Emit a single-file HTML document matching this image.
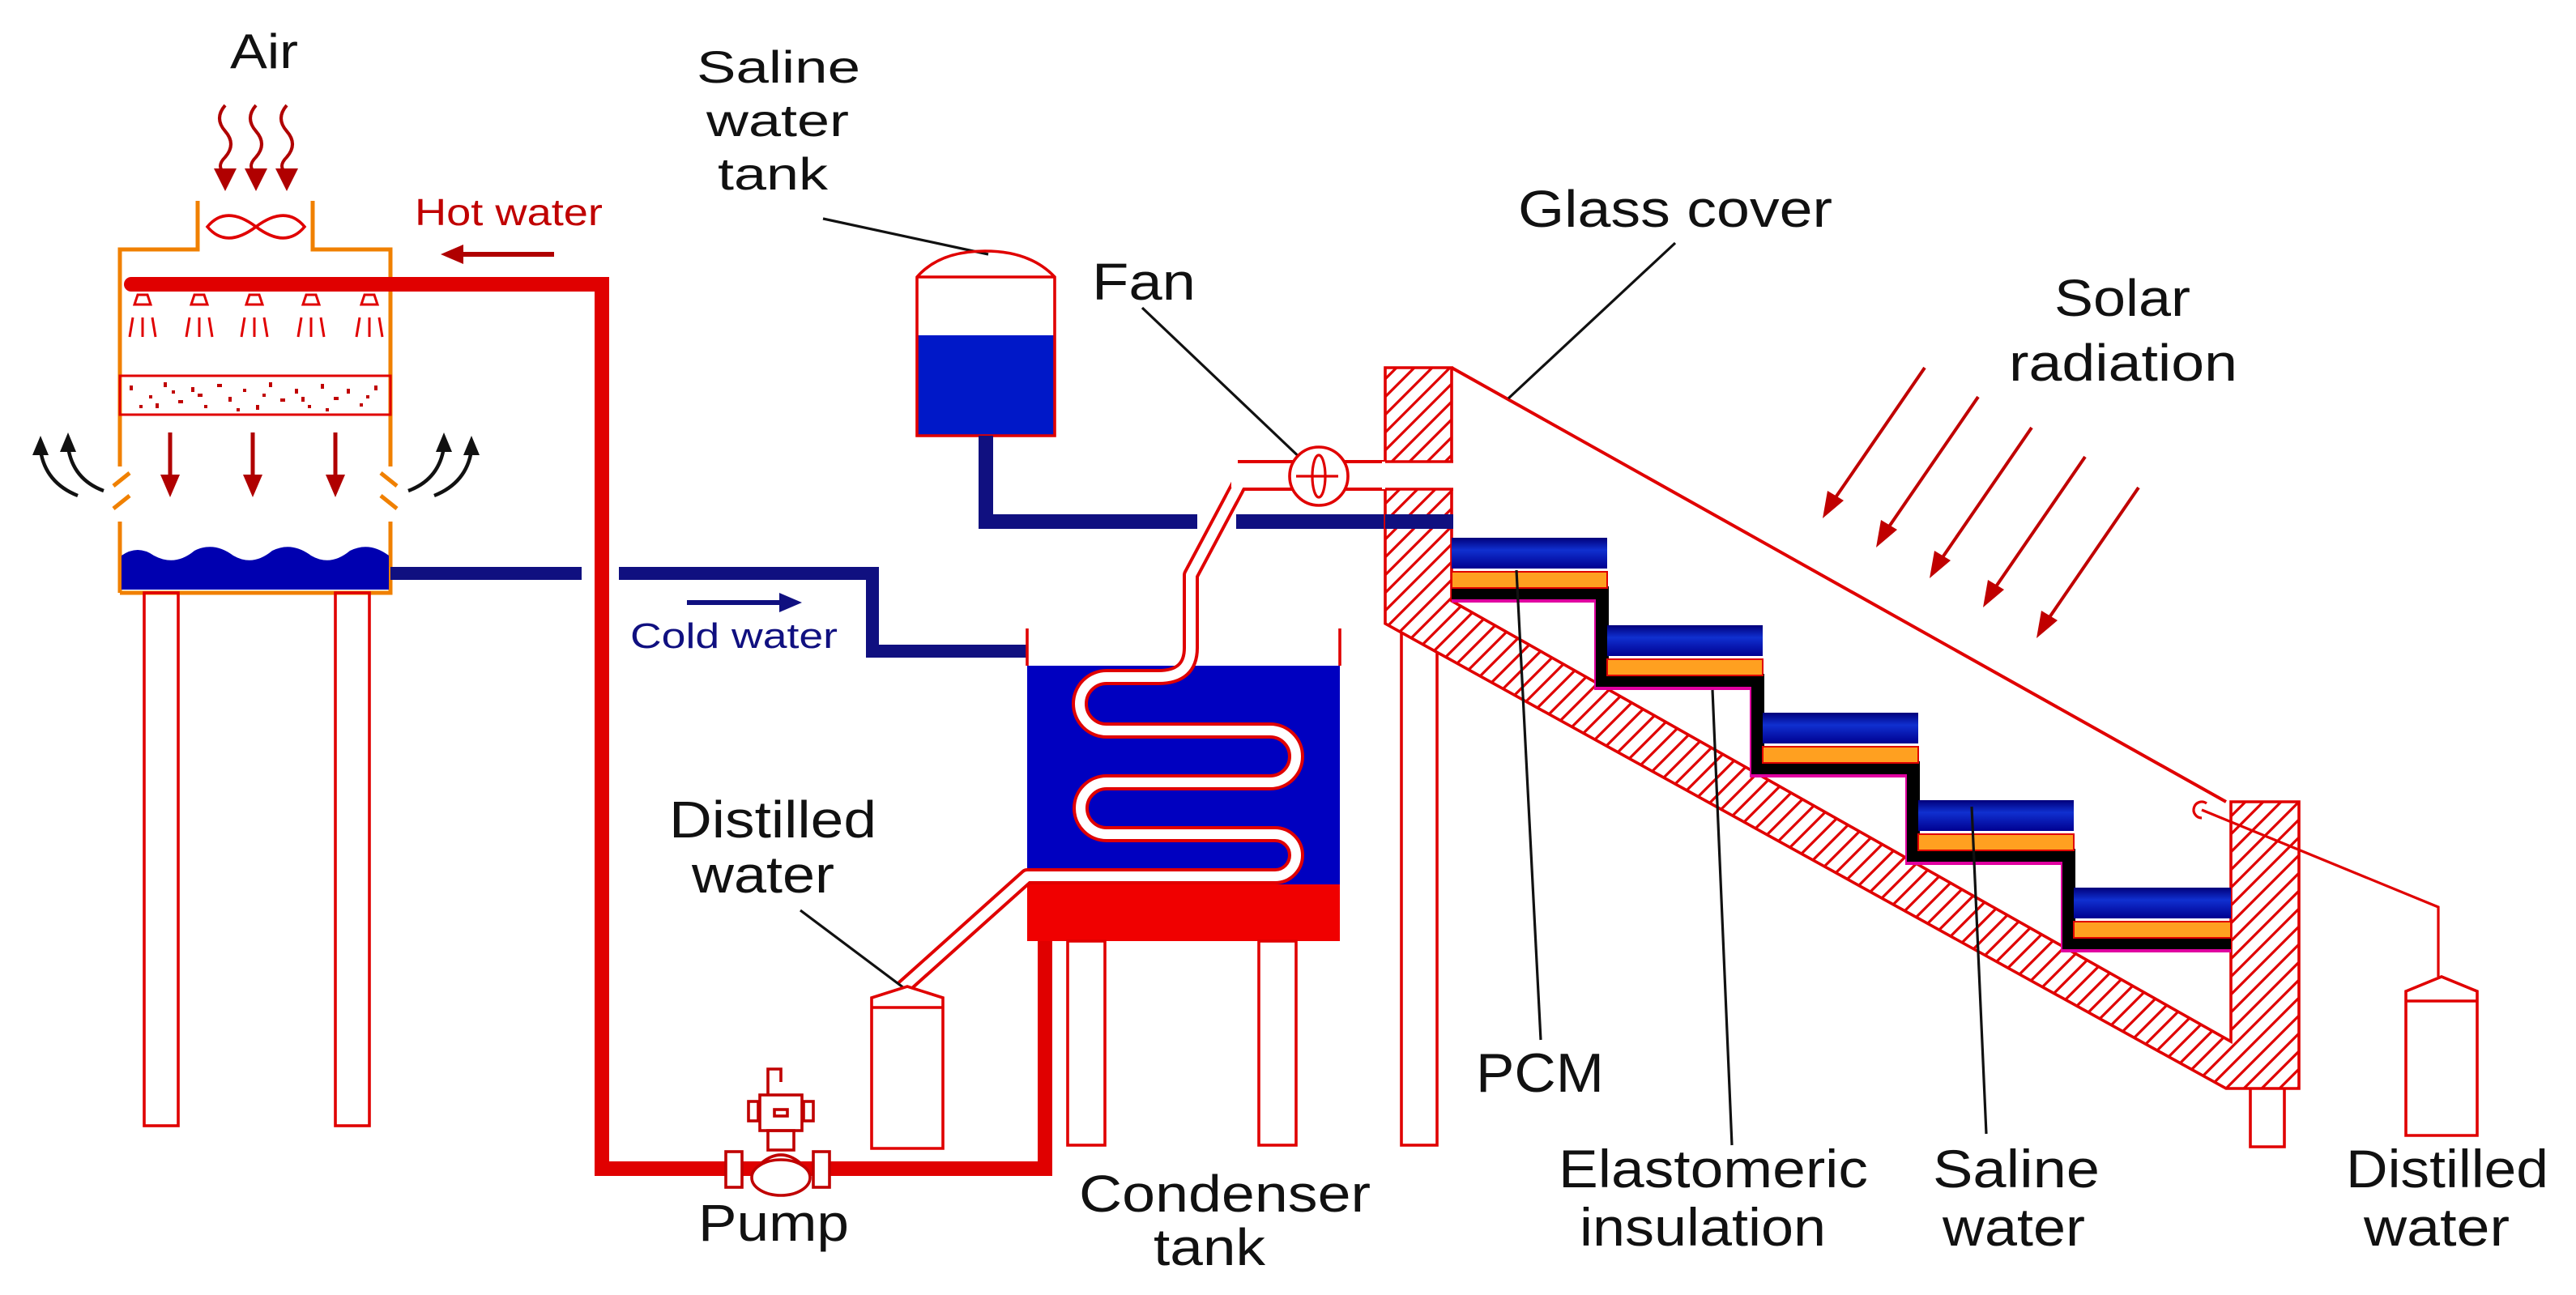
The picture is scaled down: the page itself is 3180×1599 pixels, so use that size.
<!DOCTYPE html>
<html><head><meta charset="utf-8"><style>
html,body{margin:0;padding:0;background:#fff;}
svg{display:block;}
text{font-family:"Liberation Sans",Arial,sans-serif;fill:#111;}
</style></head><body>
<svg width="3180" height="1599" viewBox="0 0 1590 799.5" xmlns="http://www.w3.org/2000/svg">
<defs>
<pattern id="hatch" patternUnits="userSpaceOnUse" width="11" height="11">
<rect width="11" height="11" fill="#fff"/>
<path d="M-2 13 L13 -2 M-2 2 L2 -2 M9 13 L13 9" stroke="#e00000" stroke-width="1.6"/>
</pattern>
<linearGradient id="bl" x1="0" y1="0" x2="0" y2="1">
<stop offset="0" stop-color="#00007a"/><stop offset="0.4" stop-color="#1030d0"/><stop offset="1" stop-color="#000090"/>
</linearGradient>
</defs>

<!-- ===== Cooling tower ===== -->
<text x="142" y="42" font-size="30" textLength="42" lengthAdjust="spacingAndGlyphs">Air</text>
<g stroke="#b00000" stroke-width="2" fill="none">
<path d="M139 65 q-7 8 0 16 q7 8 0 16 q-6 6 0 10"/>
<path d="M158 65 q-7 8 0 16 q7 8 0 16 q-6 6 0 10"/>
<path d="M177 65 q-7 8 0 16 q7 8 0 16 q-6 6 0 10"/>
</g>
<g fill="#b00000">
<path d="M132 104 L146 104 L139 118Z"/><path d="M151 104 L165 104 L158 118Z"/><path d="M170 104 L184 104 L177 118Z"/>
</g>
<g stroke="#f08000" stroke-width="2.5" fill="none">
<path d="M74 366 V322 M74 288 V154 H122 V124 M193 124 V154 H241 V288 M241 322 V366 H74"/>
<path d="M70 300 L80 292 M70 314 L80 306 M245 300 L235 292 M245 314 L235 306"/>
</g>
<path d="M128 140 C138 128 150 134 158 140 C166 146 178 152 188 140 C178 128 166 134 158 140 C150 146 138 152 128 140Z" fill="none" stroke="#e00000" stroke-width="1.8"/>
<path d="M75 364 V343 Q85 336 95 343 Q108 350 120 340 Q132 334 144 343 Q156 350 168 340 Q180 334 192 343 Q204 350 216 340 Q228 334 240 343 V364Z" fill="#0000b0"/>
<g fill="none" stroke="#e00000" stroke-width="1.5">
<path d="M85 182 h6 l2 6 h-10z M120 182 h6 l2 6 h-10z M154 182 h6 l2 6 h-10z M189 182 h6 l2 6 h-10z M225 182 h6 l2 6 h-10z"/>
<path d="M82 196 l-2 12 M88 196 v12 M94 196 l2 12 M117 196 l-2 12 M123 196 v12 M129 196 l2 12 M151 196 l-2 12 M157 196 v12 M163 196 l2 12 M186 196 l-2 12 M192 196 v12 M198 196 l2 12 M222 196 l-2 12 M228 196 v12 M234 196 l2 12"/>
<rect x="74" y="232" width="167" height="24"/>
</g>
<g fill="#c00000">
<rect x="80" y="238" width="2" height="3"/><rect x="92" y="244" width="2" height="2"/><rect x="101" y="236" width="2" height="3"/><rect x="110" y="247" width="3" height="2"/><rect x="118" y="239" width="2" height="3"/><rect x="126" y="250" width="2" height="2"/><rect x="134" y="237" width="3" height="2"/><rect x="141" y="245" width="2" height="3"/><rect x="150" y="240" width="2" height="2"/><rect x="158" y="250" width="2" height="3"/><rect x="166" y="236" width="2" height="3"/><rect x="173" y="246" width="3" height="2"/><rect x="182" y="240" width="2" height="3"/><rect x="190" y="250" width="2" height="2"/><rect x="198" y="237" width="2" height="3"/><rect x="206" y="245" width="3" height="2"/><rect x="214" y="240" width="2" height="3"/><rect x="222" y="249" width="2" height="2"/><rect x="231" y="238" width="2" height="3"/><rect x="86" y="250" width="2" height="2"/><rect x="146" y="252" width="2" height="2"/><rect x="201" y="252" width="2" height="2"/>
<rect x="96" y="249" width="2" height="3"/><rect x="122" y="243" width="3" height="2"/><rect x="162" y="243" width="2" height="2"/><rect x="186" y="245" width="2" height="3"/><rect x="226" y="244" width="2" height="2"/><rect x="106" y="241" width="2" height="2"/>
</g>
<g stroke="#b00000" stroke-width="2.5"><path d="M105 267 V296 M156 267 V296 M207 267 V296"/></g>
<g fill="#b00000"><path d="M99 293 h12 l-6 14z M150 293 h12 l-6 14z M201 293 h12 l-6 14z"/></g>
<g stroke="#111" stroke-width="2.2" fill="none">
<path d="M64 303 Q45 296 42 276"/><path d="M48 306 Q28 298 25 278"/>
<path d="M252 303 Q271 296 274 276"/><path d="M268 306 Q288 298 291 278"/>
</g>
<g fill="#111"><path d="M37 279 l5 -12 l5 12z M20 281 l5 -12 l5 12z M269 279 l5 -12 l5 12z M286 281 l5 -12 l5 12z"/></g>
<g fill="none" stroke="#e00000" stroke-width="1.8">
<rect x="89" y="366" width="21" height="329"/><rect x="207" y="366" width="21" height="329"/>
</g>

<text x="256" y="139" font-size="23" textLength="116" lengthAdjust="spacingAndGlyphs" style="fill:#c00000">Hot water</text>
<path d="M284 157 H342" stroke="#b00000" stroke-width="3"/>
<path d="M272 157 l14 -6 v12z" fill="#b00000"/>
<path d="M81 175.5 H371.5 V721.5 H645 V578" fill="none" stroke="#e00000" stroke-width="9" stroke-linejoin="miter"/>
<circle cx="81" cy="175.5" r="4.5" fill="#e00000"/>

<path d="M241 354 H359 M382 354 H538.5 V402 H634" fill="none" stroke="#101080" stroke-width="8"/>
<path d="M424 372 H482" stroke="#101080" stroke-width="3"/>
<path d="M495 372 l-14 -6 v12z" fill="#101080"/>
<text x="389" y="400" font-size="22" textLength="128" lengthAdjust="spacingAndGlyphs" style="fill:#101080">Cold water</text>

<text x="430" y="51" font-size="28" textLength="101" lengthAdjust="spacingAndGlyphs">Saline</text>
<text x="436" y="84" font-size="28" textLength="88" lengthAdjust="spacingAndGlyphs">water</text>
<text x="443" y="117" font-size="28" textLength="68" lengthAdjust="spacingAndGlyphs">tank</text>
<path d="M508 135 L610 157" stroke="#111" stroke-width="1.6"/>
<rect x="566" y="207" width="85" height="62" fill="#0018c8"/>
<path d="M566 269 V171 Q580 155 608 155 Q636 155 651 171 V269 Z M566 171 H651" fill="none" stroke="#e00000" stroke-width="1.8"/>
<path d="M608.5 269 V322 H739 M763 322 H897" fill="none" stroke="#101080" stroke-width="9"/>

<text x="674" y="185" font-size="32" textLength="64" lengthAdjust="spacingAndGlyphs">Fan</text>
<path d="M705 190 L806 286" stroke="#111" stroke-width="1.6"/>

<rect x="634" y="411" width="193" height="135" fill="#0000c0"/>
<rect x="634" y="546" width="193" height="35" fill="#f00000"/>
<path d="M634 388 V411 M827 388 V411" stroke="#e00000" stroke-width="1.8"/>
<g fill="none" stroke="#e00000" stroke-width="1.8">
<rect x="659" y="581" width="23" height="126"/><rect x="777" y="581" width="23" height="126"/>
<rect x="865" y="385" width="22" height="322"/>
</g>
<path d="M768 293 L735 355 V400 Q735 418 715 418 H683 A16.5 16.5 0 0 0 683 451 H784 A16 16 0 0 1 784 483 H683 A16 16 0 0 0 683 515 H787 A13 13 0 0 1 787 541 H634 L557 610" fill="none" stroke="#e00000" stroke-width="10" stroke-linejoin="round"/>
<path d="M768 293 L735 355 V400 Q735 418 715 418 H683 A16.5 16.5 0 0 0 683 451 H784 A16 16 0 0 1 784 483 H683 A16 16 0 0 0 683 515 H787 A13 13 0 0 1 787 541 H634 L557 610" fill="none" stroke="#fff" stroke-width="6" stroke-linejoin="round"/>
<path d="M764 293.5 H897" stroke="#e00000" stroke-width="19"/>
<path d="M760 293.5 H897" stroke="#fff" stroke-width="15"/>
<path d="M768 293 L760 308" stroke="#fff" stroke-width="6"/>
<ellipse cx="814" cy="294" rx="18" ry="18" fill="#fff" stroke="#e00000" stroke-width="1.8"/>
<path d="M800 294 H826" stroke="#e00000" stroke-width="1.6"/>
<ellipse cx="814" cy="294" rx="4" ry="13" fill="none" stroke="#e00000" stroke-width="1.6"/>

<text x="413" y="517" font-size="32" textLength="128" lengthAdjust="spacingAndGlyphs">Distilled</text>
<text x="427" y="551" font-size="32" textLength="88" lengthAdjust="spacingAndGlyphs">water</text>
<path d="M494 562 L558 610" stroke="#111" stroke-width="1.6"/>
<path d="M538 616 L560 609 L582 616 V709 H538 Z M538 622 H582" fill="#fff" stroke="#e00000" stroke-width="1.8"/>

<g fill="none" stroke="#c00000" stroke-width="1.8">
<rect x="448" y="711" width="10" height="22" fill="#fff"/><rect x="502" y="711" width="10" height="22" fill="#fff"/>
<ellipse cx="482" cy="727" rx="18" ry="11" fill="#fff"/>
<path d="M470 718 Q482 708 494 718"/>
<rect x="469" y="676" width="26" height="22" fill="#fff"/>
<rect x="462" y="680" width="6" height="12"/><rect x="496" y="680" width="6" height="12"/>
<rect x="474" y="698" width="16" height="12"/>
<path d="M474 676 V660 H482 V668"/>
<rect x="478" y="685" width="8" height="4"/>
</g>
<text x="431" y="766" font-size="32" textLength="93" lengthAdjust="spacingAndGlyphs">Pump</text>
<text x="666" y="748" font-size="32" textLength="180" lengthAdjust="spacingAndGlyphs">Condenser</text>
<text x="712" y="781" font-size="32" textLength="69" lengthAdjust="spacingAndGlyphs">tank</text>

<path d="M855 227 H896 V371 L1377 643 V495 H1419 V672 H1374 L855 385 Z" fill="url(#hatch)" stroke="#e00000" stroke-width="1.8"/>
<rect x="853" y="285" width="46" height="17" fill="#fff"/>
<path d="M855 285 H897 M855 302 H897" stroke="#e00000" stroke-width="1.8"/>
<path d="M855 322 H897" stroke="#101080" stroke-width="9"/>
<path d="M1389 672 V708 H1410 V672" fill="none" stroke="#e00000" stroke-width="1.8"/>
<g>
<path d="M896 371 H985 V425 H1081 V479 H1177 V533 H1273 V587 H1377" fill="none" stroke="#e000a0" stroke-width="2"/>
<path d="M896 366 H989 V420 H1085 V474 H1181 V528 H1277 V582 H1377" fill="none" stroke="#000" stroke-width="8"/>
<rect x="896" y="332" width="96" height="19" fill="url(#bl)"/><rect x="896" y="353" width="96" height="10" fill="#ffa020" stroke="#e00000" stroke-width="1"/>
<rect x="992" y="386" width="96" height="19" fill="url(#bl)"/><rect x="992" y="407" width="96" height="10" fill="#ffa020" stroke="#e00000" stroke-width="1"/>
<rect x="1088" y="440" width="96" height="19" fill="url(#bl)"/><rect x="1088" y="461" width="96" height="10" fill="#ffa020" stroke="#e00000" stroke-width="1"/>
<rect x="1184" y="494" width="96" height="19" fill="url(#bl)"/><rect x="1184" y="515" width="96" height="10" fill="#ffa020" stroke="#e00000" stroke-width="1"/>
<rect x="1280" y="548" width="97" height="19" fill="url(#bl)"/><rect x="1280" y="569" width="97" height="10" fill="#ffa020" stroke="#e00000" stroke-width="1"/>
</g>
<path d="M896 227 L1374 495" stroke="#e00000" stroke-width="2"/>
<path d="M1362 496 a5 5 0 1 0 -3 9" fill="none" stroke="#e00000" stroke-width="1.6"/>
<path d="M1359 500 L1505 560 V603" fill="none" stroke="#e00000" stroke-width="1.6"/>
<path d="M1485 612 L1507 603 L1529 612 V701 H1485 Z M1485 618 H1529" fill="#fff" stroke="#e00000" stroke-width="1.8"/>
<g stroke="#c00000" stroke-width="2">
<path d="M1188 227 L1131 310"/><path d="M1221 245 L1164 328"/><path d="M1254 264 L1197 347"/><path d="M1287 282 L1230 365"/><path d="M1320 301 L1263 384"/>
</g>
<g fill="#c00000">
<path d="M1125 320 L1128 303 L1138 309Z"/><path d="M1158 338 L1161 321 L1171 327Z"/><path d="M1191 357 L1194 340 L1204 346Z"/><path d="M1224 375 L1227 358 L1237 364Z"/><path d="M1257 394 L1260 377 L1270 383Z"/>
</g>
<text x="937" y="140" font-size="32" textLength="194" lengthAdjust="spacingAndGlyphs">Glass cover</text>
<path d="M1034 150 L931 246" stroke="#111" stroke-width="1.6"/>
<text x="1268" y="195" font-size="32" textLength="84" lengthAdjust="spacingAndGlyphs">Solar</text>
<text x="1240" y="235" font-size="32" textLength="141" lengthAdjust="spacingAndGlyphs">radiation</text>

<g stroke="#111" stroke-width="1.6">
<path d="M936 352 L951 642"/><path d="M1057 426 L1069 707"/><path d="M1217 498 L1226 700"/>
</g>
<text x="911" y="674" font-size="34" textLength="79" lengthAdjust="spacingAndGlyphs">PCM</text>
<text x="962" y="733" font-size="33" textLength="191" lengthAdjust="spacingAndGlyphs">Elastomeric</text>
<text x="975" y="769" font-size="33" textLength="152" lengthAdjust="spacingAndGlyphs">insulation</text>
<text x="1193" y="733" font-size="33" textLength="103" lengthAdjust="spacingAndGlyphs">Saline</text>
<text x="1199" y="769" font-size="33" textLength="88" lengthAdjust="spacingAndGlyphs">water</text>
<text x="1448" y="733" font-size="33" textLength="125" lengthAdjust="spacingAndGlyphs">Distilled</text>
<text x="1459" y="769" font-size="33" textLength="90" lengthAdjust="spacingAndGlyphs">water</text>
</svg>
</body></html>
